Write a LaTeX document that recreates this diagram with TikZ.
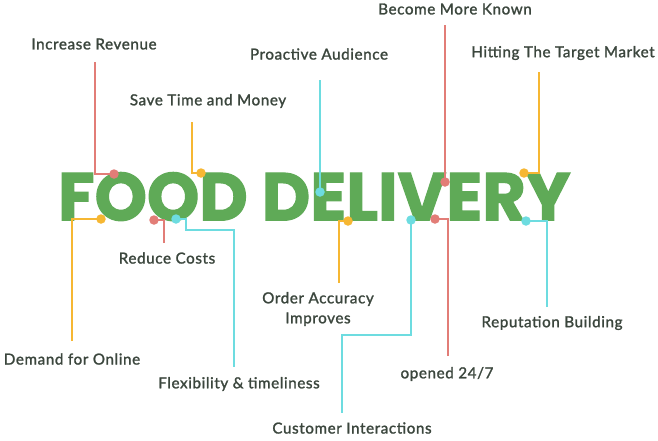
\documentclass[tikz,border=0pt]{standalone}
\usepackage{fontspec}
\setmainfont{Lato}
\newfontfamily\lblfont{Lato}[FakeBold=1.5,LetterSpace=4]
\newfontfamily\titlefont{Poppins}[BoldFeatures={FakeBold=1.8}]
\usepackage{graphicx}
\definecolor{ttl}{HTML}{5FAA57}
\definecolor{txt}{HTML}{3B463D}
\definecolor{cred}{HTML}{E27D77}
\definecolor{cyel}{HTML}{F6B733}
\definecolor{ccya}{HTML}{6DDCE0}
\tikzset{
  lbl/.style={text=txt,font=\lblfont\fontsize{15.2}{18}\selectfont,inner sep=0pt,align=center},
  wire/.style={line width=2pt},
  dot/.style={circle,fill=#1,inner sep=0pt,minimum size=9.5pt},
}
\begin{document}
\begin{tikzpicture}[x=1pt,y=-1pt]
\useasboundingbox (0,0) rectangle (658,440);
\node[text=ttl,inner sep=0pt,anchor=south west] (title) at (58,221)
  {\resizebox{512pt}{48pt}{\titlefont\bfseries FOOD DELIVERY}};
% labels
\node[lbl] (l1) at (94,44) {Increase Revenue};
\node[lbl] (l2) at (208,101) {Save Time and Money};
\node[lbl] (l3) at (319,54) {Proactive Audience};
\node[lbl] (l4) at (455,9) {Become More Known};
\node[lbl] (l5) at (563,53) {Hitting The Target Market};
\node[lbl] (l6) at (72,359) {Demand for Online};
\node[lbl] (l7) at (167,258) {Reduce Costs};
\node[lbl] (l8) at (239,384) {Flexibility \& timeliness};
\node[lbl] (l9) at (318,309) {Order Accuracy\\[2pt]Improves};
\node[lbl] (l10) at (352,428) {Customer Interactions};
\node[lbl] (l11) at (447,374) {opened 24/7};
\node[lbl] (l12) at (552,323) {Reputation Building};
% line ends
\coordinate (e1) at (95,62);
\coordinate (e2) at (192,122);
\coordinate (e3) at (320,80);
\coordinate (e4) at (445,25);
\coordinate (e5) at (539,72);
\coordinate (e6) at (72,341);
\coordinate (e7) at (164,243);
\coordinate (e8) at (234,367);
\coordinate (e9) at (339,283);
\coordinate (e10) at (342,413);
\coordinate (e11) at (448,356);
\coordinate (e12) at (547,307);
% dots
\coordinate (d1) at (114,174);
\coordinate (d2) at (201,173);
\coordinate (d3) at (320,192);
\coordinate (d4) at (445,182);
\coordinate (d5) at (524,173);
\coordinate (d6) at (101,219);
\coordinate (d7) at (154,220);
\coordinate (d8) at (176,219);
\coordinate (d9) at (348,221);
\coordinate (d10) at (411,220);
\coordinate (d11) at (435,219);
\coordinate (d12) at (526,221);
% wires
\draw[wire,cred] (e1) |- (d1);
\draw[wire,cyel] (e2) |- (d2);
\draw[wire,ccya] (e3) -- (d3);
\draw[wire,cred] (e4) -- (d4);
\draw[wire,cyel] (e5) |- (d5);
\draw[wire,cyel] (e6) |- (d6);
\draw[wire,cred] (e7) |- (d7);
\draw[wire,ccya] (d8) -| (186,230) -| (e8);
\draw[wire,cyel] (e9) |- (d9);
\draw[wire,ccya] (d10) -- (411,335) -| (e10);
\draw[wire,cred] (e11) |- (d11);
\draw[wire,ccya] (e12) |- (d12);
% dot markers
\node[dot=cred] at (d1) {};
\node[dot=cyel] at (d2) {};
\node[dot=ccya] at (d3) {};
\node[dot=cred] at (d4) {};
\node[dot=cyel] at (d5) {};
\node[dot=cyel] at (d6) {};
\node[dot=cred] at (d7) {};
\node[dot=ccya] at (d8) {};
\node[dot=cyel] at (d9) {};
\node[dot=ccya] at (d10) {};
\node[dot=cred] at (d11) {};
\node[dot=ccya] at (d12) {};
\end{tikzpicture}
\end{document}
